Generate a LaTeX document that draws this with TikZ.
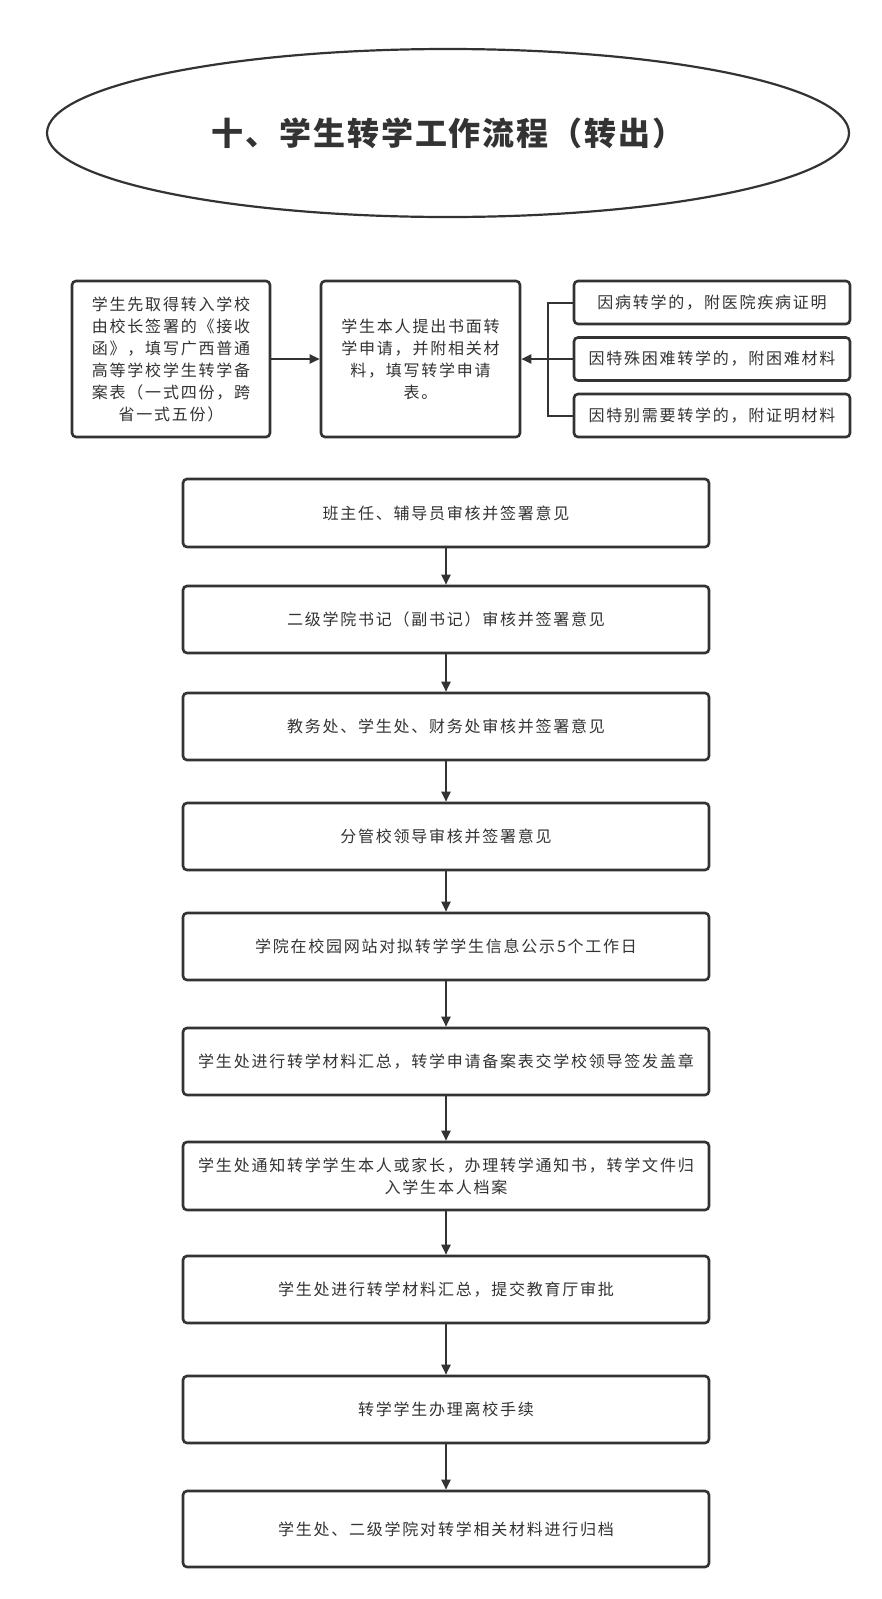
\documentclass[tikz,border=0pt]{standalone}
\usepackage{fontspec}
\usetikzlibrary{arrows.meta,shapes.geometric}
\newfontfamily\cjk[LetterSpace=11]{Noto Sans CJK SC}
\newfontfamily\cjktitle[LetterSpace=6]{Noto Sans CJK SC}
\definecolor{lc}{HTML}{333333}
\definecolor{tc}{HTML}{333333}
\begin{document}
\begin{tikzpicture}[x=1pt,y=-1pt,
  box/.style={draw=lc, line width=2.6pt, rounded corners=4pt, fill=white, inner sep=0pt,
    align=center, text=tc, font=\cjk\fontsize{16}{22}\selectfont},
  mainbox/.style={box, minimum width=526pt, minimum height=67pt},
  sidebox/.style={box, minimum width=276pt, minimum height=43pt},
  arr/.style={draw=lc, line width=2pt, -{Triangle[length=10pt,width=9pt]}},
  ln/.style={draw=lc, line width=2pt}]
\useasboundingbox (0,0) rectangle (882,1599);

\node[ellipse, draw=lc, line width=2.2pt, minimum width=802pt, minimum height=168pt, inner sep=0pt,
  text=tc, font=\cjktitle\bfseries\fontsize{32}{36}\selectfont] (title) at (448,133) {十、学生转学工作流程（转出）};

\node[box, minimum width=198pt, minimum height=156pt] (left) at (171,359)
  {学生先取得转入学校\\由校长签署的《接收\\函》，填写广西普通\\高等学校学生转学备\\案表（一式四份，跨\\省一式五份）};
\node[box, minimum width=199pt, minimum height=156pt] (mid) at (420.5,359)
  {学生本人提出书面转\\学申请，并附相关材\\料，填写转学申请\\表。};
\node[sidebox] (r1) at (712,302.5) {因病转学的，附医院疾病证明};
\node[sidebox] (r2) at (712,359) {因特殊困难转学的，附困难材料};
\node[sidebox] (r3) at (712,415.5) {因特别需要转学的，附证明材料};
\coordinate (jn) at (548,359);

\draw[arr] (left.east) -- (mid.west);
\draw[ln] (r1.west) -| (jn);
\draw[ln] (r3.west) -| (jn);
\draw[arr] (r2.west) -- (mid.east);

\node[mainbox, minimum height=68pt] (b1) at (446,513) {班主任、辅导员审核并签署意见};
\node[mainbox] (b2) at (446,619.5) {二级学院书记（副书记）审核并签署意见};
\node[mainbox] (b3) at (446,726.5) {教务处、学生处、财务处审核并签署意见};
\node[mainbox] (b4) at (446,836.5) {分管校领导审核并签署意见};
\node[mainbox] (b5) at (446,946.5) {学院在校园网站对拟转学学生信息公示5个工作日};
\node[mainbox] (b6) at (446,1061.5) {学生处进行转学材料汇总，转学申请备案表交学校领导签发盖章};
\node[mainbox, minimum height=68pt] (b7) at (446,1176) {学生处通知转学学生本人或家长，办理转学通知书，转学文件归\\入学生本人档案};
\node[mainbox] (b8) at (446,1289.5) {学生处进行转学材料汇总，提交教育厅审批};
\node[mainbox] (b9) at (446,1409.5) {转学学生办理离校手续};
\node[mainbox, minimum height=76pt] (b10) at (446,1529) {学生处、二级学院对转学相关材料进行归档};

\foreach \a/\b in {b1/b2,b2/b3,b3/b4,b4/b5,b5/b6,b6/b7,b7/b8,b8/b9,b9/b10}
  \draw[arr] (\a.south) -- (\b.north);
\end{tikzpicture}
\end{document}
